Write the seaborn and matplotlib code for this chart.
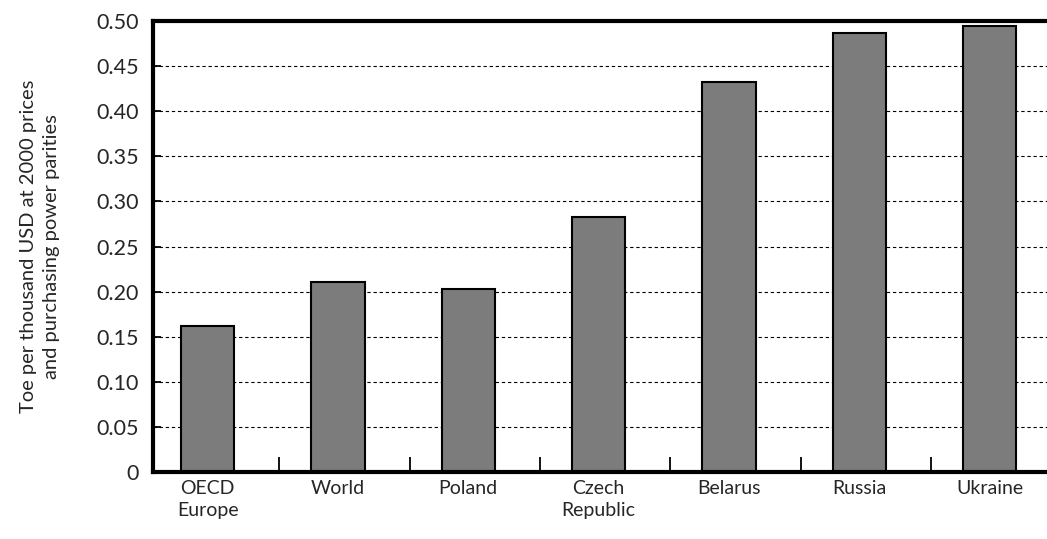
import matplotlib
matplotlib.use("Agg")
import matplotlib.pyplot as plt
import pandas as pd
import seaborn as sns
from matplotlib.ticker import FixedLocator

categories = ["OECD\nEurope", "World", "Poland", "Czech\nRepublic", "Belarus", "Russia", "Ukraine"]
values = [0.162, 0.211, 0.203, 0.283, 0.432, 0.487, 0.495]
y_ticks = [0, 0.05, 0.10, 0.15, 0.20, 0.25, 0.30, 0.35, 0.40, 0.45, 0.50]
y_tick_labels = ["0", "0.05", "0.10", "0.15", "0.20", "0.25", "0.30", "0.35", "0.40", "0.45", "0.50"]
y_label = "Toe per thousand USD at 2000 prices\nand purchasing power parities"

sns.set_style("ticks")
plt.rcParams["font.family"] = ["Lato", "DejaVu Sans"]

df = pd.DataFrame({"region": categories, "toe": values})

fig = plt.figure(figsize=(10.47, 5.39), dpi=100)
ax = fig.add_axes([0.146, 0.124, 0.854, 0.837])

# dashed gridlines behind the bars
for y in y_ticks[1:-1]:
    ax.axhline(y, color="black", lw=0.8, ls=(0, (3, 2.5)), zorder=0)

sns.barplot(
    data=df, x="region", y="toe", ax=ax,
    color="#7c7c7c", edgecolor="black", linewidth=1.5,
    width=0.41, saturation=1, zorder=2,
)

ax.set_xlim(-0.42, 6.44)
ax.set_ylim(0, 0.5)
ax.set_yticks(y_ticks)
ax.set_yticklabels(y_tick_labels, fontsize=15.5)
ax.set_xticks(range(len(categories)))
ax.set_xticklabels(categories, fontsize=14, linespacing=1.35)
ax.xaxis.set_minor_locator(FixedLocator([i + 0.55 for i in range(len(categories) - 1)]))

ax.tick_params(axis="x", which="major", length=0, pad=6)
ax.tick_params(axis="x", which="minor", direction="in", length=11, width=1.3, color="black")
ax.tick_params(axis="y", direction="in", length=6, width=1.3, pad=10, color="black")

ax.set_xlabel("")
ax.set_ylabel(y_label, fontsize=14.5, linespacing=1.45, labelpad=26)

for side in ["left", "bottom", "top"]:
    ax.spines[side].set_visible(True)
    ax.spines[side].set_linewidth(3)
    ax.spines[side].set_color("black")
ax.spines["right"].set_visible(False)

fig.savefig("out.png", dpi=100)
